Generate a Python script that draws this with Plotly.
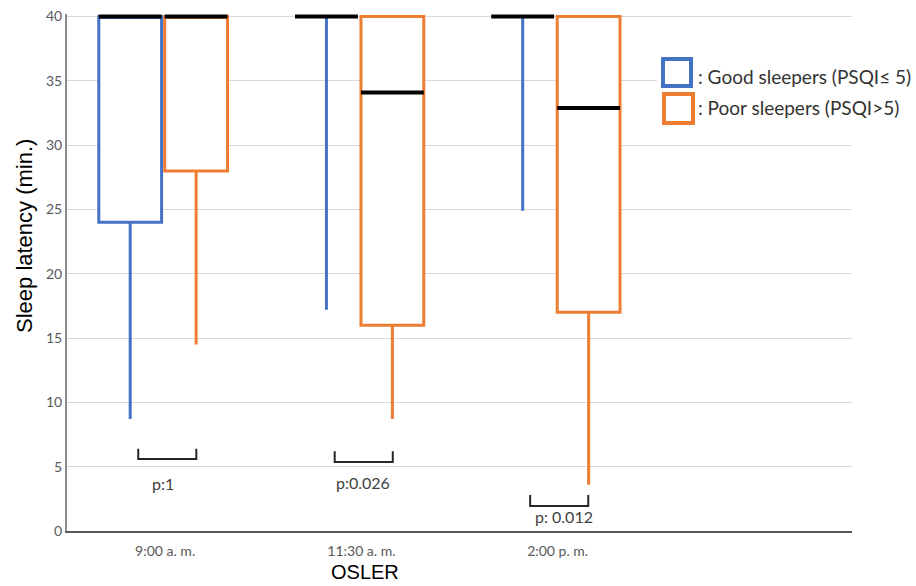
import plotly.graph_objects as go

# ---- data ----
categories = ["9:00 a. m.", "11:30 a. m.", "2:00 p. m."]
good_lower = [8.7, 17.2, 24.9]
good_q1 = [24, 40, 40]
good_median = [40, 40, 40]
good_q3 = [40, 40, 40]
good_upper = [40, 40, 40]

poor_lower = [14.5, 8.7, 3.6]
poor_q1 = [28, 16, 17]
poor_median = [40, 34.1, 32.9]
poor_q3 = [40, 40, 40]
poor_upper = [40, 40, 40]

p_labels = ["p:1", "p:0.026", "p: 0.012"]
y_ticks = [0, 5, 10, 15, 20, 25, 30, 35, 40]

# ---- layout constants ----
BLUE = "#4472C4"
ORANGE = "#ED7D31"
W = 916
H = 586
ML, MR, MT, MB = 67, 64, 14, 55
BOX_W = 0.32
OFF_GOOD = -0.178
OFF_POOR = 0.158
idx = list(range(len(categories)))

fig = go.Figure()


def add_group(offset, color, lower, q1, med, q3, upper):
    xs = [i + offset for i in idx]
    fig.add_trace(go.Box(
        x=xs, lowerfence=lower, q1=q1, median=med, q3=q3, upperfence=upper,
        width=BOX_W, whiskerwidth=0, fillcolor="white",
        line=dict(color=color, width=3), boxpoints=False, showlegend=False,
        hoverinfo="skip",
    ))
    # black median segments
    mx, my = [], []
    for x, m in zip(xs, med):
        mx += [x - BOX_W / 2, x + BOX_W / 2, None]
        my += [m, m, None]
    fig.add_trace(go.Scatter(x=mx, y=my, mode="lines",
                             line=dict(color="black", width=4),
                             showlegend=False, hoverinfo="skip"))


add_group(OFF_GOOD, BLUE, good_lower, good_q1, good_median, good_q3, good_upper)
add_group(OFF_POOR, ORANGE, poor_lower, poor_q1, poor_median, poor_q3, poor_upper)

# brackets + p-values (annotation positions)
br_center = [0.011, 1.012, 2.008]
br_half = 0.148
br_top = [6.4, 6.2, 2.8]
br_bot = [5.6, 5.37, 1.94]
p_x = [-0.01, 1.01, 2.03]
p_y = [3.73, 3.81, 1.09]
for c, t, b in zip(br_center, br_top, br_bot):
    fig.add_shape(type="path",
                  path=f"M {c-br_half},{t} L {c-br_half},{b} L {c+br_half},{b} L {c+br_half},{t}",
                  xref="x", yref="y", line=dict(color="#262626", width=2))
for x, y, t in zip(p_x, p_y, p_labels):
    fig.add_annotation(x=x, y=y, xref="x", yref="y", text=t, showarrow=False,
                       xanchor="center", yanchor="middle",
                       font=dict(family="Lato", size=16, color="#404040"))

# legend (custom)
plot_w = W - ML - MR
plot_h = H - MT - MB
def px(xp):
    return (xp - ML) / plot_w
def py(yp):
    return (H - MB - yp) / plot_h

fig.add_shape(type="rect", xref="paper", yref="paper",
              x0=px(657), x1=px(916), y0=py(130), y1=py(52),
              fillcolor="white", line=dict(width=0), layer="above")
fig.add_shape(type="rect", xref="paper", yref="paper",
              x0=px(663), x1=px(691), y0=py(86), y1=py(59),
              line=dict(color=BLUE, width=4), layer="above")
fig.add_shape(type="rect", xref="paper", yref="paper",
              x0=px(664), x1=px(693), y0=py(123), y1=py(94),
              line=dict(color=ORANGE, width=4), layer="above")
fig.add_annotation(x=px(696), y=py(76), xref="paper", yref="paper",
                   text=": Good sleepers (PSQI≤ 5)", showarrow=False,
                   xanchor="left", yanchor="middle",
                   font=dict(family="Lato", size=19, color="#333333"))
fig.add_annotation(x=px(696), y=py(108), xref="paper", yref="paper",
                   text=": Poor sleepers (PSQI>5)", showarrow=False,
                   xanchor="left", yanchor="middle",
                   font=dict(family="Lato", size=19, color="#333333"))

# axis titles
fig.add_annotation(x=px(24), y=py(236), xref="paper", yref="paper",
                   text="Sleep latency (min.)", showarrow=False, textangle=-90,
                   xanchor="center", yanchor="middle",
                   font=dict(family="Liberation Sans, Arial", size=22, color="black"))
fig.add_annotation(x=px(365), y=py(572), xref="paper", yref="paper",
                   text="OSLER", showarrow=False,
                   xanchor="center", yanchor="middle",
                   font=dict(family="Liberation Sans, Arial", size=20, color="black"))

fig.update_layout(
    width=W, height=H,
    margin=dict(l=ML, r=MR, t=MT, b=MB, autoexpand=False),
    plot_bgcolor="white", paper_bgcolor="white",
    boxmode="overlay",
    showlegend=False,
    xaxis=dict(range=[-0.5, 3.5], tickmode="array", tickvals=idx, ticktext=categories,
               showgrid=False, zeroline=False, showline=True, linecolor="#595959",
               linewidth=2, ticks="", automargin=False, ticklabelstandoff=6,
               tickfont=dict(family="Lato", size=14, color="#595959")),
    yaxis=dict(range=[0, 40.2], tickmode="array", tickvals=y_ticks,
               showgrid=True, gridcolor="#D9D9D9", gridwidth=1, zeroline=False,
               showline=True, linecolor="#8C8C8C", linewidth=2, ticks="",
               automargin=False,
               tickfont=dict(family="Lato", size=14, color="#595959")),
)

fig.write_html("out.html", config={"displayModeBar": False},
               post_script="document.body.style.margin='0';")
